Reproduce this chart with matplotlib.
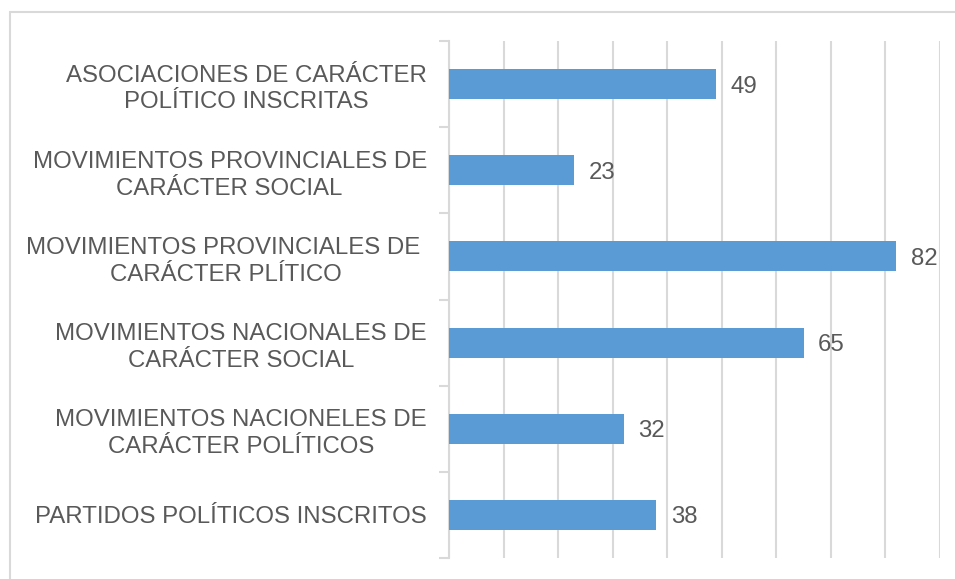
import matplotlib
matplotlib.use("Agg")
import matplotlib.pyplot as plt
from matplotlib.patches import Rectangle
import numpy as np

categories = [
    "ASOCIACIONES DE CARÁCTER\nPOLÍTICO INSCRITAS",
    "MOVIMIENTOS PROVINCIALES DE\nCARÁCTER SOCIAL",
    "MOVIMIENTOS PROVINCIALES DE \nCARÁCTER PLÍTICO",
    "MOVIMIENTOS NACIONALES DE\nCARÁCTER SOCIAL",
    "MOVIMIENTOS NACIONELES DE\nCARÁCTER POLÍTICOS",
    "PARTIDOS POLÍTICOS INSCRITOS",
]
values = [49, 23, 82, 65, 32, 38]

plt.rcParams['font.family'] = ['Liberation Sans', 'DejaVu Sans']
TXT = "#595959"
GRID = "#D9D9D9"
BAR = "#5B9BD5"
FS = 17.3

W, H = 955, 579
fig = plt.figure(figsize=(W / 100, H / 100), dpi=100)
ax = fig.add_axes([449 / W, 1 - 558 / H, (940 - 449) / W, (558 - 41) / H])

y = np.arange(len(categories))
ax.barh(y, values, height=0.35, color=BAR, zorder=3)
ax.set_xlim(0, 90)
ax.set_ylim(len(categories) - 0.5, -0.5)
ax.set_xticks(np.arange(0, 91, 10))
ax.tick_params(axis='x', length=0, labelbottom=False)
ax.grid(axis='x', color=GRID, linewidth=1.5, zorder=0)
ax.set_yticks(y)
ax.set_yticklabels(categories, color=TXT, fontsize=FS, multialignment='center',
                   linespacing=1.28)
ax.tick_params(axis='y', which='major', length=0, pad=16)
ax.set_yticks(np.arange(-0.5, len(categories), 1), minor=True)
ax.tick_params(axis='y', which='minor', length=7, width=1.5, color=GRID, direction='out')
for s in ['top', 'right', 'bottom']:
    ax.spines[s].set_visible(False)
ax.spines['left'].set_color(GRID)
ax.spines['left'].set_linewidth(1.5)

for yi, v in zip(y, values):
    ax.annotate(str(v), (v, yi), xytext=(10.5, 0), textcoords='offset points',
                va='center_baseline', ha='left', color=TXT, fontsize=FS)

fig.patches.append(Rectangle((9.5 / W, -0.1), 1.2, 1 - 11.5 / H + 0.1,
                             transform=fig.transFigure, fill=False,
                             edgecolor=GRID, linewidth=1.5))

fig.savefig("out.png", dpi=100)
